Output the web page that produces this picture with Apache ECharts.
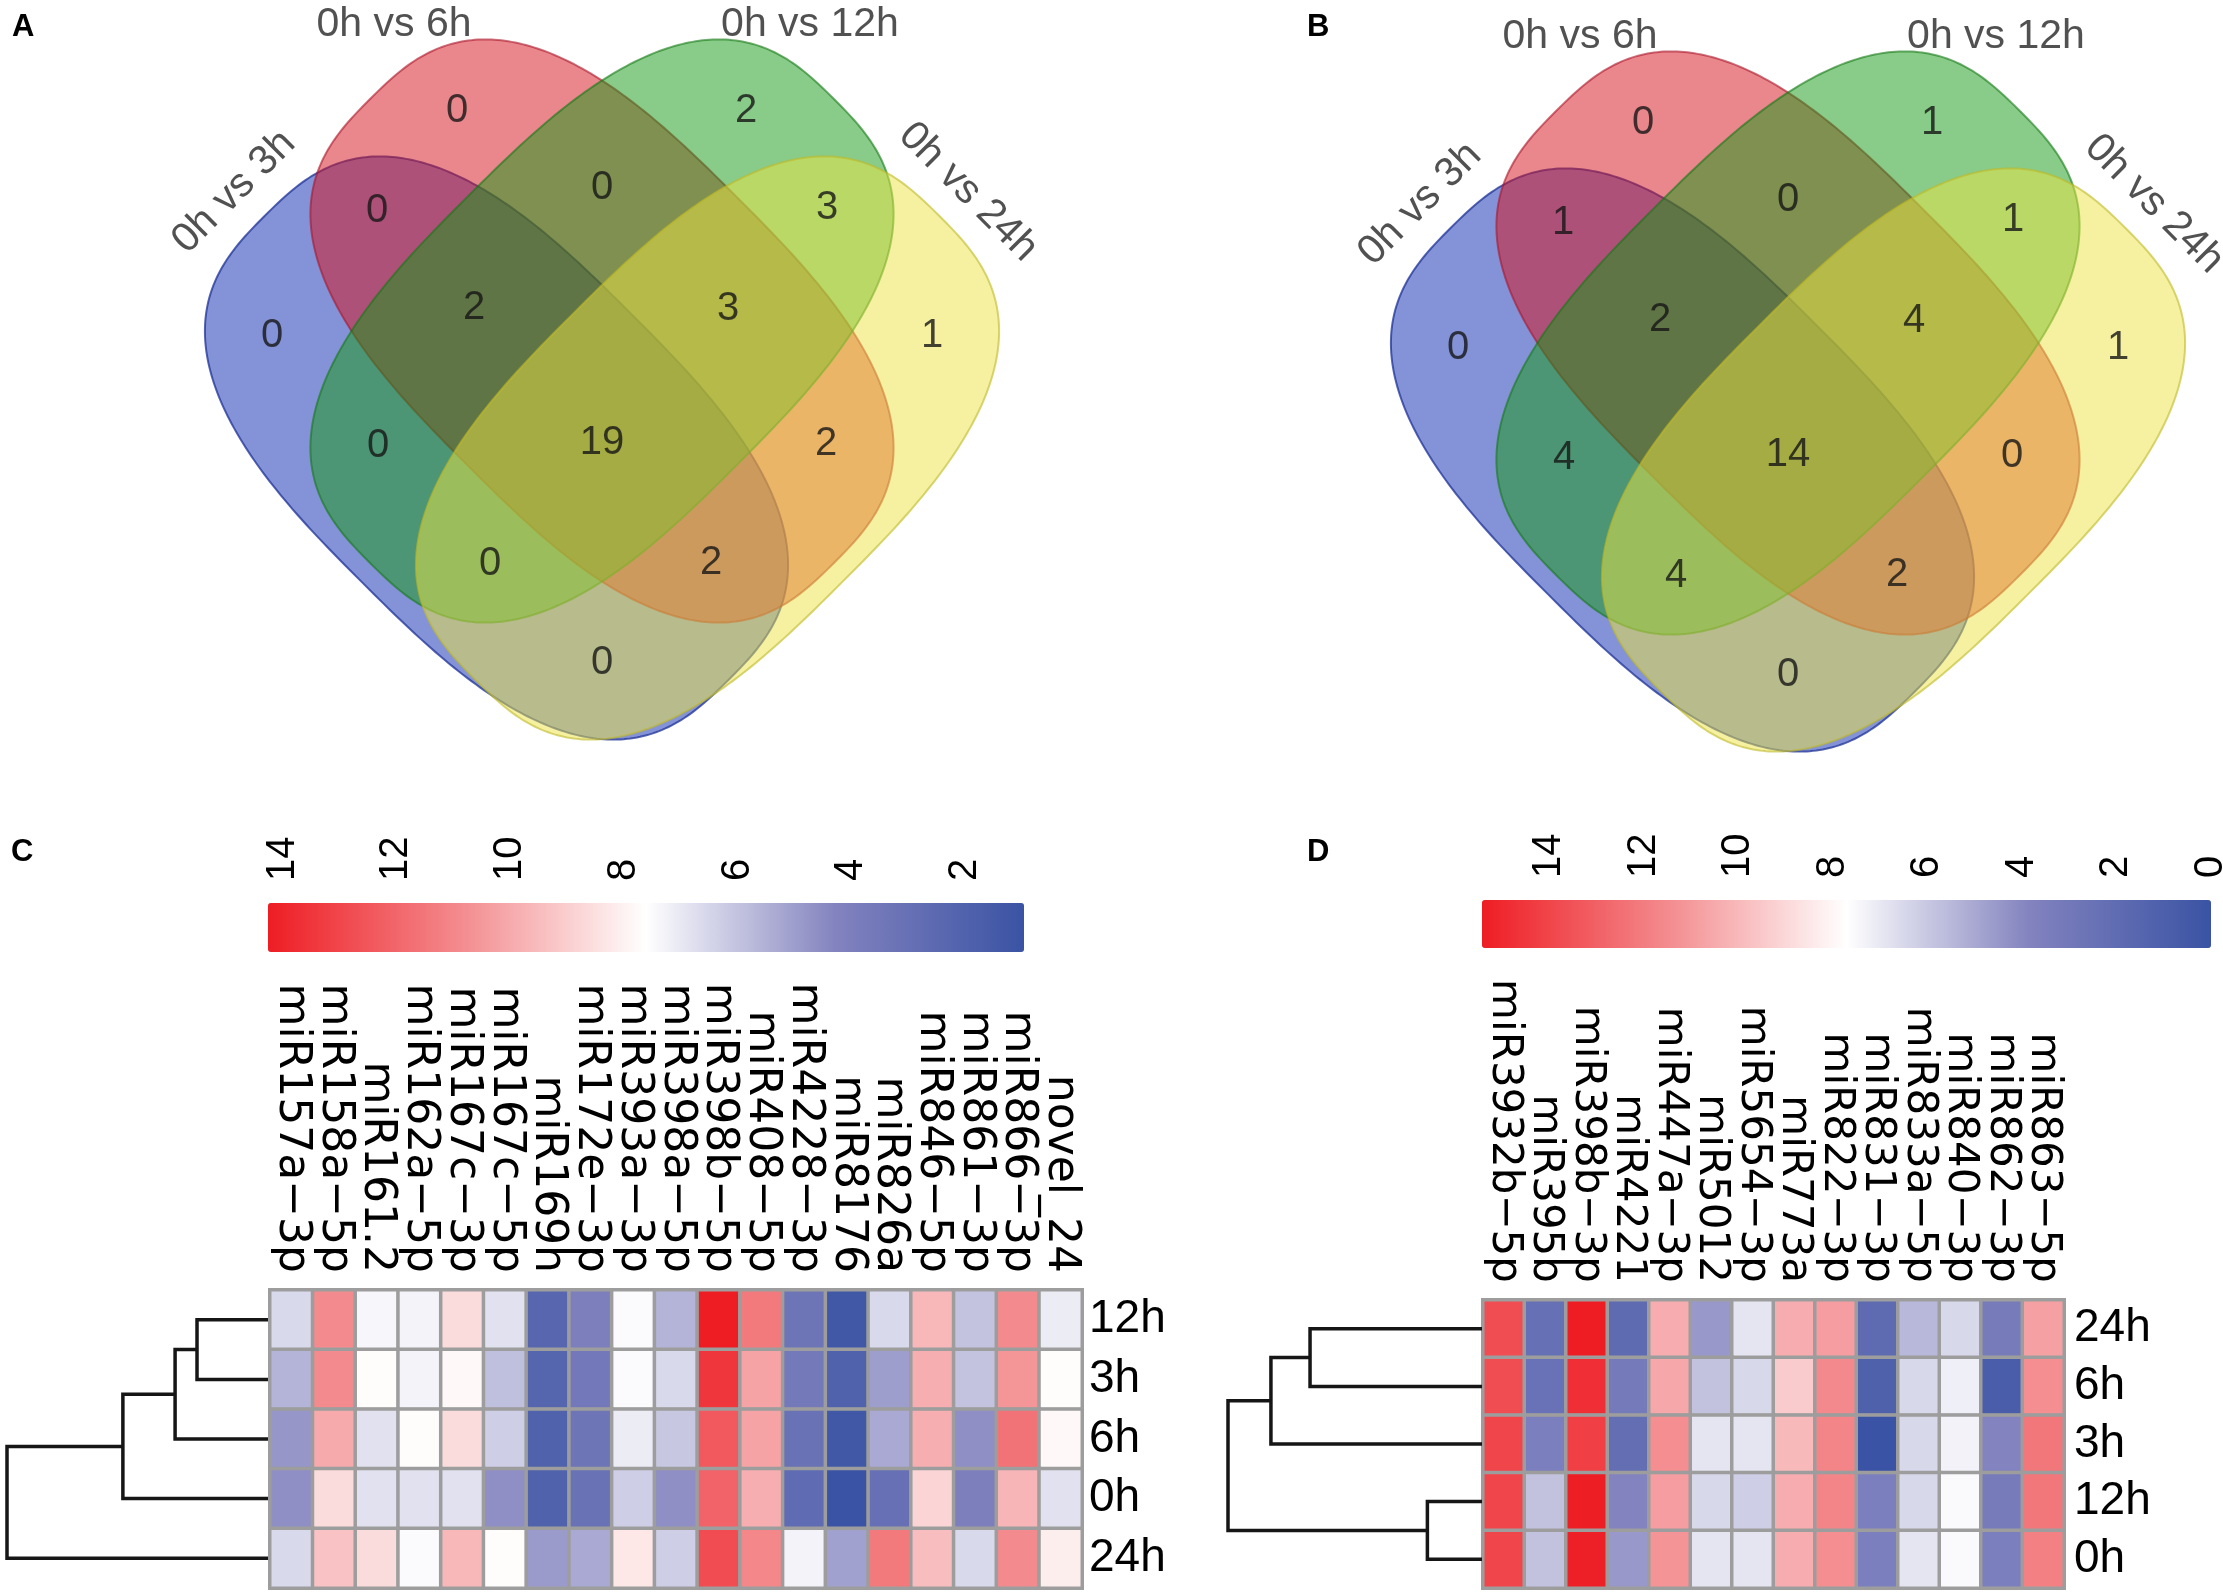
<!DOCTYPE html>
<html><head><meta charset="utf-8">
<script src="https://cdn.jsdelivr.net/npm/echarts@6/dist/echarts.min.js"></script>
<style>html,body{margin:0;padding:0;background:#fff}#c{width:2223px;height:1592px}</style>
</head><body><div id="c"></div>
<script>
// ---------------- DATA ----------------
const vennSets = ['0h vs 3h', '0h vs 6h', '0h vs 12h', '0h vs 24h'];
const vennRegions = ['3h', '6h', '12h', '24h', '3h&6h', '6h&12h', '12h&24h', '3h&12h', '6h&24h', '3h&24h',
  '3h&6h&12h', '6h&12h&24h', '3h&12h&24h', '3h&6h&24h', 'all'];
const vennCountsA = [0, 0, 2, 1, 0, 0, 3, 0, 2, 0, 2, 3, 0, 2, 19];
const vennCountsB = [0, 0, 1, 1, 1, 0, 1, 4, 0, 0, 2, 4, 4, 2, 14];

const colsC = ['miR157a−3p', 'miR158a−5p', 'miR161.2', 'miR162a−5p', 'miR167c−3p', 'miR167c−5p', 'miR169h',
  'miR172e−3p', 'miR393a−3p', 'miR398a−5p', 'miR398b−5p', 'miR408−5p', 'miR4228−3p', 'miR8176', 'miR826a',
  'miR846−5p', 'miR861−3p', 'miR866−3p', 'novel_24'];
const rowsC = ['12h', '3h', '6h', '0h', '24h'];
const heatC_12h = [6.6, 10.9, 7.4, 7.3, 8.6, 6.8, 2.3, 4.0, 7.5, 5.6, 14.26, 11.4, 3.3, 1.3, 6.6, 9.6, 6.0, 10.9, 7.1];
const heatC_3h  = [5.6, 10.9, 7.7, 7.3, 7.8, 5.9, 2.2, 3.5, 7.5, 6.6, 13.5, 10.2, 3.6, 2.0, 5.0, 9.9, 6.0, 10.6, 7.7];
const heatC_6h  = [4.8, 10.0, 6.8, 7.7, 8.6, 6.3, 2.0, 3.3, 7.1, 6.1, 12.4, 10.2, 3.1, 1.3, 5.3, 9.9, 4.6, 11.6, 7.8];
const heatC_0h  = [4.6, 8.6, 6.8, 6.8, 6.8, 4.6, 2.0, 3.1, 6.3, 4.6, 12.1, 9.9, 2.65, 0.96, 3.0, 8.8, 4.0, 9.7, 6.8];
const heatC_24h = [6.6, 9.3, 8.6, 7.5, 9.6, 7.7, 4.9, 5.3, 8.3, 6.3, 12.8, 11.0, 7.3, 5.1, 11.4, 9.45, 6.6, 10.9, 8.1];
const colorTicksC = [2, 4, 6, 8, 10, 12, 14];

const colsD = ['miR3932b−5p', 'miR395b', 'miR398b−3p', 'miR4221', 'miR447a−3p', 'miR5012', 'miR5654−3p',
  'miR773a', 'miR822−3p', 'miR831−3p', 'miR833a−5p', 'miR840−3p', 'miR862−3p', 'miR863−5p'];
const rowsD = ['24h', '6h', '3h', '12h', '0h'];
const heatD_24h = [13.7, 2.3, 15.42, 1.9, 10.4, 4.5, 6.9, 10.4, 10.9, 1.9, 5.5, 6.5, 3.2, 10.8];
const heatD_6h  = [13.7, 2.5, 14.8, 3.1, 10.6, 5.8, 6.5, 9.4, 11.55, 1.15, 6.5, 7.2, 0.8, 11.4];
const heatD_3h  = [14.0, 3.5, 14.2, 2.2, 11.4, 6.9, 6.9, 10.0, 11.7, 0.0, 6.5, 7.3, 3.85, 12.2];
const heatD_12h = [14.0, 5.8, 15.4, 3.85, 10.9, 6.5, 6.2, 10.4, 11.7, 3.5, 6.5, 7.55, 3.2, 12.2];
const heatD_0h  = [14.0, 5.8, 15.3, 4.5, 11.2, 6.9, 6.9, 10.4, 11.4, 3.5, 6.9, 7.55, 3.5, 11.9];
const colorTicksD = [0, 2, 4, 6, 8, 10, 12, 14];

// row dendrograms (hclust style: negative = leaf index, positive = merge step)
const dendroMergeC = [[-1, -2], [1, -3], [2, -4], [3, -5]];
const dendroHeightC = [0.272, 0.356, 0.556, 1.0];
const dendroMergeD = [[-1, -2], [1, -3], [-4, -5], [2, 3]];
const dendroHeightD = [0.677, 0.831, 0.215, 1.0];

// ---------------- LAYOUT / STYLE ----------------
// Venn template (template units; y grows downward). Rounded super-ellipse sets.
const VENN_SHAPES = [
  { cx: 496.5, cy: 448, a: 328, b: 190, n: 2.8, rot: 45 },
  { cx: 602,   cy: 331, a: 328, b: 190, n: 2.8, rot: 45 },
  { cx: 602,   cy: 331, a: 328, b: 190, n: 2.8, rot: -45 },
  { cx: 707.5, cy: 448, a: 328, b: 190, n: 2.8, rot: -45 }
];
const VENN_FILL = ['rgba(10,40,175,0.5)', 'rgba(213,15,28,0.5)', 'rgba(20,153,20,0.5)', 'rgba(235,228,65,0.5)'];
const VENN_STROKE = ['rgba(30,50,150,0.75)', 'rgba(170,20,40,0.6)', 'rgba(20,120,20,0.6)', 'rgba(190,185,40,0.6)'];
const REGION_POS = [
  [272, 336], [457, 111], [746, 111], [932, 336],
  [377, 211], [602, 188], [827, 208], [378, 446], [826, 444], [602, 663],
  [474, 308], [728, 309], [490, 564], [711, 563], [602, 443]
];
const SET_LABEL_POS = [[234, 192], [394, 25], [810, 25], [968, 192]];
const SET_LABEL_ROT = [45, 0, 0, -45];
const VENN_W = 1100, VENN_H = 780;
const RAMP = ['#3a53a4', '#8383bf', '#ffffff', '#f3898c', '#ee1d24'];
const FONT = 'Liberation Sans, Arial, sans-serif';

function pxGrid(left, top, width, height) {
  return { left, top, width, height, containLabel: false, outerBoundsMode: 'none' };
}

function shapeRender(params, api) {
  const s = VENN_SHAPES[params.dataIndex];
  const phi = s.rot * Math.PI / 180, e = 2 / s.n;
  const pts = [];
  const N = 360;
  for (let k = 0; k < N; k++) {
    const t = k / N * 2 * Math.PI;
    const c = Math.cos(t), si = Math.sin(t);
    const X = s.a * Math.sign(c) * Math.pow(Math.abs(c), e);
    const Y = s.b * Math.sign(si) * Math.pow(Math.abs(si), e);
    pts.push(api.coord([s.cx + X * Math.cos(phi) - Y * Math.sin(phi),
                        s.cy + X * Math.sin(phi) + Y * Math.cos(phi)]));
  }
  return { type: 'polygon', shape: { points: pts },
    style: { fill: VENN_FILL[params.dataIndex], stroke: VENN_STROKE[params.dataIndex], lineWidth: 2 } };
}

const INVISIBLE = { color: 'rgba(0,0,0,0)', borderWidth: 0 };
function vennSeries(gi, counts) {
  return [
    { type: 'custom', xAxisIndex: gi, yAxisIndex: gi, silent: true, clip: false,
      renderItem: shapeRender, encode: { x: 0, y: 1 },
      data: vennSets.map((n, i) => ({ name: n, value: [VENN_SHAPES[i].cx, VENN_SHAPES[i].cy] })) },
    { type: 'scatter', xAxisIndex: gi, yAxisIndex: gi, silent: true, symbolSize: 2,
      itemStyle: INVISIBLE, z: 5, clip: false,
      label: { show: true, position: 'inside', formatter: p => String(p.value[2]),
        fontSize: 40, fontFamily: FONT, color: '#151515' },
      data: vennRegions.map((r, i) => ({ name: r, value: [REGION_POS[i][0], REGION_POS[i][1], counts[i]] })) },
    { type: 'scatter', xAxisIndex: gi, yAxisIndex: gi, silent: true, symbolSize: 2,
      itemStyle: INVISIBLE, z: 5, clip: false,
      data: vennSets.map((n, i) => ({ name: n, value: SET_LABEL_POS[i],
        label: { show: true, position: 'inside', formatter: '{b}', rotate: SET_LABEL_ROT[i],
          fontSize: 41, fontFamily: FONT, color: '#262626' } })) }
  ];
}

function heatData(rowArrays) {
  const out = [];
  rowArrays.forEach((row, r) => row.forEach((v, c) => out.push([c, r, v])));
  return out;
}

function dendroSeries(gi, merges, heights) {
  const nodeY = [], nodeH = [];
  const get = (id) => id < 0 ? { y: -id - 1, h: 0 } : { y: nodeY[id - 1], h: nodeH[id - 1] };
  merges.forEach((m, i) => {
    const a = get(m[0]), b = get(m[1]);
    nodeY[i] = (a.y + b.y) / 2; nodeH[i] = heights[i];
  });
  return { type: 'custom', xAxisIndex: gi, yAxisIndex: gi, silent: true, clip: false,
    encode: { x: 0, y: 1 },
    data: merges.map((m, i) => [heights[i], nodeY[i]]),
    renderItem: (params, api) => {
      const i = params.dataIndex, m = merges[i];
      const a = get(m[0]), b = get(m[1]), h = heights[i];
      const pts = [api.coord([a.h, a.y]), api.coord([h, a.y]), api.coord([h, b.y]), api.coord([b.h, b.y])];
      return { type: 'polyline', shape: { points: pts },
        style: { stroke: '#161616', lineWidth: 3.5, fill: null, lineJoin: 'miter' } };
    } };
}

const valsC = [heatC_12h, heatC_3h, heatC_6h, heatC_0h, heatC_24h];
const valsD = [heatD_24h, heatD_6h, heatD_3h, heatD_12h, heatD_0h];
const flatC = valsC.flat(), flatD = valsD.flat();
const minC = Math.min(...flatC), maxC = Math.max(...flatC);
const minD = Math.min(...flatD), maxD = Math.max(...flatD);

const hidden = { show: false };
const grids = [
  pxGrid(0, 0, VENN_W, VENN_H),      // 0 Venn A
  pxGrid(1186, 12, VENN_W, VENN_H),  // 1 Venn B
  pxGrid(270, 1290, 812, 298),       // 2 heatmap C
  pxGrid(1483, 1300, 581, 288),      // 3 heatmap D
  pxGrid(7, 1290, 261, 298),         // 4 dendro C
  pxGrid(1228, 1300, 254, 288),      // 5 dendro D
  pxGrid(268, 903, 756, 49),         // 6 colorbar C axis
  pxGrid(1482, 900, 729, 48)         // 7 colorbar D axis
];

const catLabel = (size, fam) => ({ interval: 0, rotate: 90, margin: 17, fontSize: size, fontFamily: fam, color: '#000' });
const xAxes = [
  { gridIndex: 0, type: 'value', min: 0, max: VENN_W, show: false },
  { gridIndex: 1, type: 'value', min: 0, max: VENN_W, show: false },
  { gridIndex: 2, type: 'category', data: colsC, position: 'top', axisLine: hidden, axisTick: hidden,
    splitLine: hidden, axisLabel: catLabel(44, 'DejaVu Sans') },
  { gridIndex: 3, type: 'category', data: colsD, position: 'top', axisLine: hidden, axisTick: hidden,
    splitLine: hidden, axisLabel: catLabel(42, 'DejaVu Sans') },
  { gridIndex: 4, type: 'value', min: 0, max: Math.max(...dendroHeightC), inverse: true, show: false },
  { gridIndex: 5, type: 'value', min: 0, max: Math.max(...dendroHeightD), inverse: true, show: false },
  { gridIndex: 6, type: 'value', min: minC, max: maxC, inverse: true, position: 'top',
    axisLine: hidden, axisTick: hidden, splitLine: hidden,
    axisLabel: { customValues: colorTicksC, rotate: 90, margin: 22, fontSize: 40, fontFamily: FONT, color: '#000' } },
  { gridIndex: 7, type: 'value', min: minD, max: maxD, inverse: true, position: 'top',
    axisLine: hidden, axisTick: hidden, splitLine: hidden,
    axisLabel: { customValues: colorTicksD, rotate: 90, margin: 22, fontSize: 40, fontFamily: FONT, color: '#000' } }
];
const rowLabel = (m) => ({ interval: 0, margin: m, fontSize: 46, fontFamily: FONT, color: '#000' });
const yAxes = [
  { gridIndex: 0, type: 'value', min: 0, max: VENN_H, inverse: true, show: false },
  { gridIndex: 1, type: 'value', min: 0, max: VENN_H, inverse: true, show: false },
  { gridIndex: 2, type: 'category', data: rowsC, inverse: true, position: 'right', axisLine: hidden,
    axisTick: hidden, splitLine: hidden, axisLabel: rowLabel(7) },
  { gridIndex: 3, type: 'category', data: rowsD, inverse: true, position: 'right', axisLine: hidden,
    axisTick: hidden, splitLine: hidden, axisLabel: rowLabel(10) },
  { gridIndex: 4, type: 'value', min: -0.5, max: rowsC.length - 0.5, inverse: true, show: false },
  { gridIndex: 5, type: 'value', min: -0.5, max: rowsD.length - 0.5, inverse: true, show: false },
  { gridIndex: 6, type: 'value', min: 0, max: 1, show: false },
  { gridIndex: 7, type: 'value', min: 0, max: 1, show: false }
];

const series = [
  { type: 'heatmap', xAxisIndex: 2, yAxisIndex: 2, data: heatData(valsC), silent: true, progressive: 0,
    itemStyle: { borderColor: '#9d9d9d', borderWidth: 3.5 }, emphasis: { disabled: true } },
  { type: 'heatmap', xAxisIndex: 3, yAxisIndex: 3, data: heatData(valsD), silent: true, progressive: 0,
    itemStyle: { borderColor: '#9d9d9d', borderWidth: 3.5 }, emphasis: { disabled: true } },
  ...vennSeries(0, vennCountsA),
  ...vennSeries(1, vennCountsB),
  dendroSeries(4, dendroMergeC, dendroHeightC),
  dendroSeries(5, dendroMergeD, dendroHeightD)
];

const vm = (si, mn, mx, left, top, w, len) => ({
  type: 'continuous', seriesIndex: si, min: mn, max: mx, orient: 'horizontal', inverse: true,
  left, top, itemWidth: w, itemHeight: len, calculable: false, padding: 0, text: null,
  hoverLink: false, inRange: { color: RAMP }, textStyle: { fontSize: 1, color: 'rgba(0,0,0,0)' }
});

const letter = (t, left, top) => ({ text: t, left, top, padding: 0,
  textStyle: { fontSize: 31, fontWeight: 'bold', fontFamily: FONT, color: '#000' } });

const option = {
  animation: false,
  backgroundColor: '#ffffff',
  title: [letter('A', 12, 12), letter('B', 1307, 12), letter('C', 11, 837), letter('D', 1307, 837)],
  grid: grids,
  xAxis: xAxes,
  yAxis: yAxes,
  visualMap: [vm(0, minC, maxC, 268, 903, 49, 756), vm(1, minD, maxD, 1482, 900, 48, 729)],
  series
};

const chart = echarts.init(document.getElementById('c'), null, { renderer: 'canvas', devicePixelRatio: 1 });
chart.setOption(option);
</script>
</body></html>
